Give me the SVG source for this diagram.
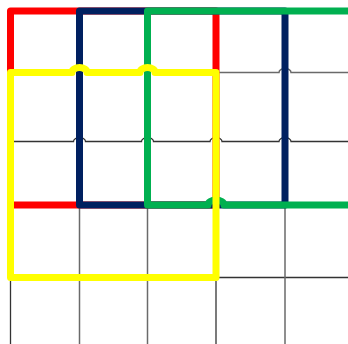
<svg xmlns="http://www.w3.org/2000/svg" width="348" height="344" viewBox="0 0 348 344">
<style>
.grid{fill:none;stroke:#333;stroke-width:1.3}
.grid2{fill:none;stroke:#6a6a6a;stroke-width:1.5}
.thick{fill:none;stroke-width:7;stroke-linejoin:round}
</style>
<rect width="348" height="344" fill="#fff"/>
<g id="connectors">
<path class="grid" d="M14,141.5 H73.5 a6,4 0 0 1 12,0 H141.5 a6,4 0 0 1 12,0 H210 a6,4 0 0 1 12,0 H279 a6,4 0 0 1 12,0 H348"/>
<path class="grid2" d="M219,72.5 H279 a6,4 0 0 1 12,0 H348"/>
<path class="grid" d="M219,277.5 H348"/>
<path class="grid" d="M10.5,281 V344"/>
<path class="grid2" d="M79.5,205 V344"/>
<path class="grid2" d="M147.5,205 V344"/>
<path class="grid" d="M216,281 V344"/>
<path class="grid2" d="M285,205 V344"/>
</g>
<g id="red">
<path class="thick" stroke="#ff0000" d="M10.5,205 V11 H216 V205 Z"/>
</g>
<g id="navy">
<path class="thick" stroke="#002060" d="M79.5,205 V11 H285 V205 Z"/>
</g>
<g id="green">
<path class="thick" stroke="#00b050" d="M352,11 H147.5 V205 H208 a8,5 0 0 1 16,0 H352"/>
</g>
<g id="yellow">
<path class="thick" stroke="#ffff00" d="M10.5,277.5 V72.5 H72 a7.5,5 0 0 1 15,0 H140 a7.5,5 0 0 1 15,0 H216 V277.5 Z"/>
</g>
</svg>
